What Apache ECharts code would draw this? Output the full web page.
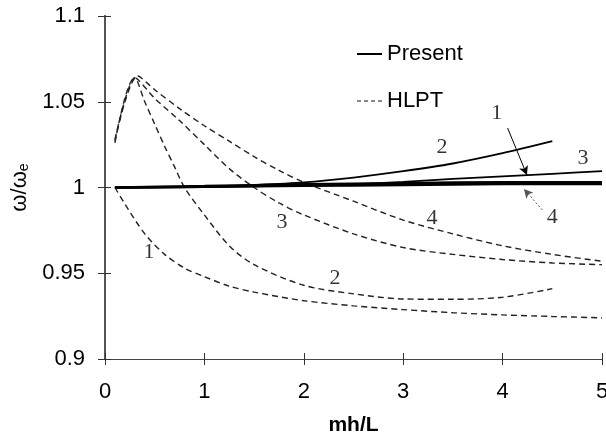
<!DOCTYPE html>
<html><head><meta charset="utf-8">
<script src="https://cdn.jsdelivr.net/npm/echarts@6/dist/echarts.min.js"></script>
<style>html,body{margin:0;padding:0;background:#fff}#c{width:606px;height:440px}</style>
</head><body><div id="c"></div>
<script>
// ---- data ----
const xTicks = [0, 1, 2, 3, 4, 5];
const yTicks = [0.9, 0.95, 1, 1.05, 1.1];

// HLPT (dashed) curves
const h1x = [0.1, 0.2, 0.4, 0.6, 0.8, 1, 1.25, 1.5, 2, 2.5, 3, 3.5, 4, 4.5, 5];
const h1y = [1.0, 0.9904, 0.973, 0.961, 0.953, 0.948, 0.9425, 0.939, 0.934, 0.931, 0.9288, 0.927, 0.9257, 0.9248, 0.924];
const h2x = [0.1, 0.3, 0.4, 0.5, 0.6, 0.7, 0.8, 1, 1.25, 1.5, 2, 2.5, 3, 3.5, 4, 4.5];
const h2y = [1.028, 1.064, 1.05, 1.037, 1.024, 1.012, 1.0, 0.984, 0.966, 0.955, 0.943, 0.938, 0.935, 0.9348, 0.936, 0.941];
const h3x = [0.1, 0.3, 0.5, 0.75, 1, 1.25, 1.5, 1.75, 2, 2.5, 3, 3.5, 4, 4.5, 5];
const h3y = [1.026, 1.064, 1.052, 1.039, 1.025, 1.011, 1.0, 0.991, 0.984, 0.973, 0.965, 0.961, 0.958, 0.956, 0.955];
const h4x = [0.1, 0.33, 0.5, 0.75, 1, 1.25, 1.5, 1.75, 2, 2.5, 3, 3.5, 4, 4.5, 5];
const h4y = [1.027, 1.065, 1.057, 1.046, 1.036, 1.027, 1.018, 1.01, 1.003, 0.992, 0.981, 0.973, 0.966, 0.961, 0.957];

// Present (solid) curves
const p1x = [0.1, 1, 2, 3, 4, 5];
const p1y = [1.0, 1.0004, 1.001, 1.0015, 1.002, 1.002];
const p2x = [0.1, 1, 1.5, 2, 2.5, 3, 3.5, 4, 4.5];
const p2y = [1.0, 1.0005, 1.0015, 1.003, 1.0058, 1.0095, 1.014, 1.02, 1.027];
const p3x = [0.1, 1, 2, 2.5, 3, 3.5, 4, 4.5, 5];
const p3y = [1.0, 1.0003, 1.0012, 1.002, 1.0033, 1.005, 1.0065, 1.008, 1.0095];
const p4x = [0.1, 1, 2, 3, 4, 5];
const p4y = [1.0, 1.0008, 1.0018, 1.0025, 1.003, 1.003];

// curve labels: [x, y, text]
const curveLabels = [
  [0.443, 0.9624, '1'], [2.314, 0.9472, '2'], [1.78, 0.9799, '3'], [3.29, 0.9822, '4'],
  [3.39, 1.0236, '2'], [4.81, 1.0172, '3'], [3.94, 1.0434, '1'], [4.50, 0.9828, '4']
];
// arrows: [x0, y0, x1, y1]
const arrow1 = [4.05, 1.0347, 4.245, 1.0073];
const arrow4 = [4.40, 0.9869, 4.215, 0.9991];

const legendNames = ['Present', 'HLPT'];
// ---------------

const zip = (xs, ys) => xs.map((x, i) => [x, ys[i]]);
const FONT = 'Liberation Sans, Arial, sans-serif';
const dashed = (xs, ys) => ({
  type: 'line', data: zip(xs, ys), showSymbol: false, symbol: 'none', smooth: 0.3, silent: true,
  lineStyle: { color: '#222', width: 1.4, type: [6, 4] }
});
const solid = (xs, ys, w) => ({
  type: 'line', data: zip(xs, ys), showSymbol: false, symbol: 'none', smooth: 0.3, silent: true,
  lineStyle: { color: '#000', width: w, type: 'solid' }
});

const chart = echarts.init(document.getElementById('c'), null, { renderer: 'canvas' });
const axisFont = { fontFamily: FONT, fontSize: 22, color: '#000' };

chart.setOption({
  animation: false,
  backgroundColor: '#fff',
  grid: { left: 105, right: 4, top: 16, bottom: 81, containLabel: false, outerBoundsMode: 'none' },
  legend: {
    data: legendNames, orient: 'vertical', left: 351, top: 38, itemGap: 25,
    itemWidth: 25, itemHeight: 14,
    itemStyle: { opacity: 0, color: 'transparent', borderWidth: 0 },
    textStyle: { fontFamily: FONT, fontSize: 22, color: '#000' }
  },
  xAxis: [{
    type: 'value', min: 0, max: 5, interval: 1,
    name: 'mh/L', nameLocation: 'middle', nameGap: 56,
    nameTextStyle: { fontFamily: FONT, fontSize: 21, fontWeight: 'bold', color: '#000' },
    axisLine: { onZero: false, lineStyle: { color: '#444', width: 1 } },
    axisTick: { length: 6, lineStyle: { color: '#333' } },
    axisLabel: Object.assign({ margin: 22 }, axisFont),
    splitLine: { show: false }
  }, {
    type: 'value', min: 0, max: 5, interval: 1, position: 'bottom', offset: 0,
    axisLine: { show: true, lineStyle: { color: '#444', width: 1 } }, axisLabel: { show: false },
    axisTick: { show: true, inside: true, length: 6, lineStyle: { color: '#333' } },
    splitLine: { show: false }
  }],
  yAxis: [{
    type: 'value', min: 0.9, max: 1.1, interval: 0.05,
    name: '{a|ω/ω}{s|e}', nameLocation: 'middle', nameGap: 68, nameRotate: 90,
    nameTextStyle: { rich: {
      a: { fontFamily: FONT, fontSize: 22, color: '#000' },
      s: { fontFamily: FONT, fontSize: 14, color: '#000', verticalAlign: 'bottom', padding: [8, 0, 0, 0] }
    } },
    axisLine: { onZero: false, lineStyle: { color: '#555', width: 2 } },
    axisTick: { length: 7, lineStyle: { color: '#333' } },
    axisLabel: Object.assign({ margin: 20 }, axisFont),
    splitLine: { show: false }
  }, {
    type: 'value', min: 0.9, max: 1.1, interval: 0.05, position: 'left', offset: 0,
    axisLine: { show: true, lineStyle: { color: '#555', width: 2 } }, axisLabel: { show: false },
    axisTick: { show: true, inside: true, length: 6, lineStyle: { color: '#333' } },
    splitLine: { show: false }
  }],
  series: [
    { name: 'Present', type: 'line', data: [], symbol: 'none', showSymbol: false,
      lineStyle: { color: '#000', width: 1.5 }, itemStyle: { color: '#000' } },
    { name: 'HLPT', type: 'line', data: [], symbol: 'none', showSymbol: false,
      lineStyle: { color: '#888', width: 1, type: [4, 3] }, itemStyle: { color: '#888' } },
    dashed(h1x, h1y), dashed(h2x, h2y), dashed(h3x, h3y), dashed(h4x, h4y),
    solid(p1x, p1y, 2.6), solid(p4x, p4y, 2.6), solid(p2x, p2y, 1.8), solid(p3x, p3y, 1.8),
    {
      type: 'scatter', symbolSize: 0, silent: true,
      data: curveLabels.map(d => ({ value: [d[0], d[1]], name: d[2] })),
      label: { show: true, position: 'inside', formatter: p => p.name,
        fontFamily: 'Liberation Serif, Times New Roman, serif', fontSize: 22, color: '#000' },
      markLine: {
        silent: true, symbol: ['none', 'arrow'], symbolSize: [7, 9], label: { show: false },
        data: [
          [{ coord: [arrow1[0], arrow1[1]], lineStyle: { color: '#000', width: 1, type: 'solid' } },
           { coord: [arrow1[2], arrow1[3]] }],
          [{ coord: [arrow4[0], arrow4[1]], lineStyle: { color: '#555', width: 1, type: [2, 2] } },
           { coord: [arrow4[2], arrow4[3]] }]
        ]
      }
    }
  ]
});
</script></body></html>
